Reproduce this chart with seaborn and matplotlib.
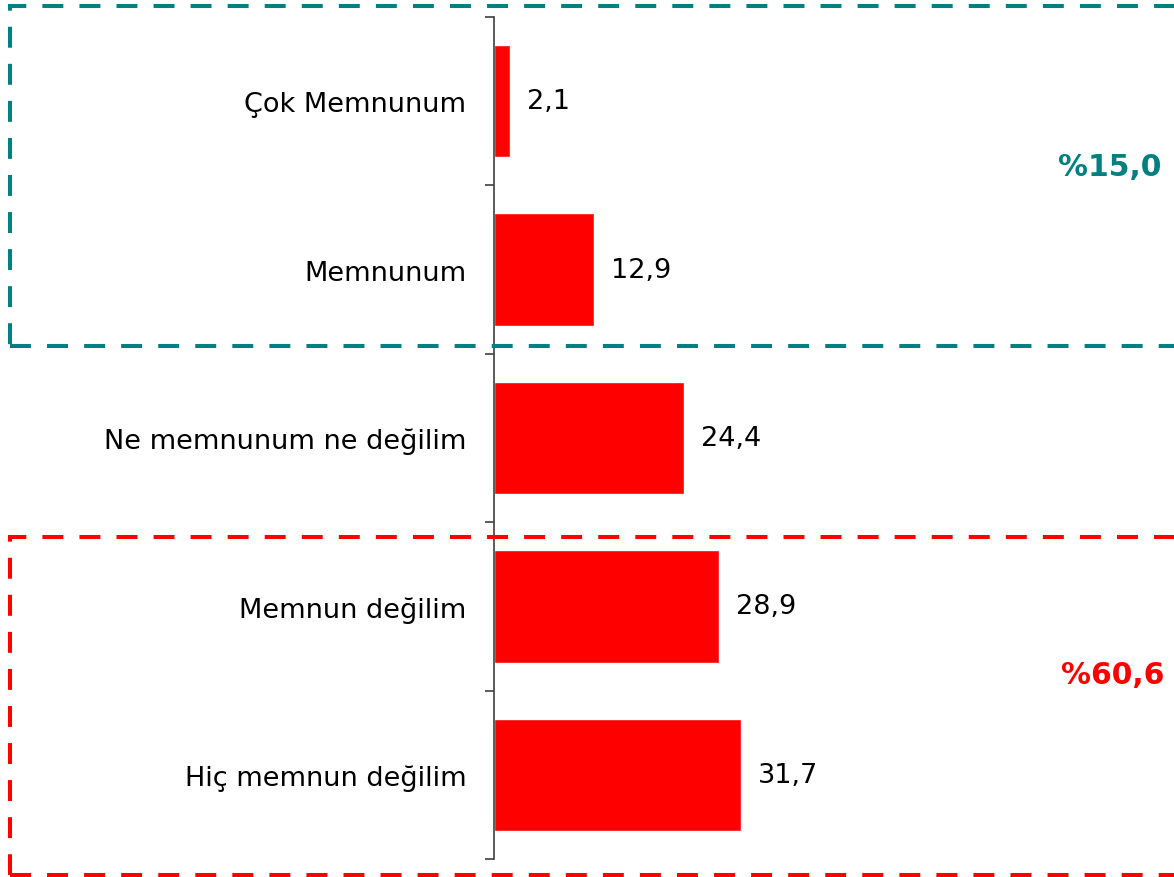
import matplotlib
matplotlib.use("Agg")
import matplotlib.pyplot as plt
import seaborn as sns
import pandas as pd
from matplotlib.patches import Rectangle

# Data
categories = ["Çok Memnunum", "Memnunum", "Ne memnunum ne değilim",
              "Memnun değilim", "Hiç memnun değilim"]
values = [2.1, 12.9, 24.4, 28.9, 31.7]
group_labels = ["%15,0", "%60,6"]
group_colors = ["#008080", "#FF0000"]

sns.set_style("white")
plt.rcParams["font.family"] = ["DejaVu Sans"]
plt.rcParams["text.color"] = "black"
plt.rcParams["ytick.color"] = "black"

df = pd.DataFrame({"cat": categories, "val": values})

fig = plt.figure(figsize=(11.74, 8.78), dpi=100)
ax = fig.add_axes([494 / 1174, 18 / 878, 1 - 494 / 1174, 842 / 878])

sns.barplot(data=df, y="cat", x="val", orient="h", color="#FF0000",
            saturation=1, width=0.667, ax=ax)

ax.set_xlim(0, 87.3)
ax.set_ylim(4.5, -0.5)
ax.set_xlabel("")
ax.set_ylabel("")
ax.set_xticks([])

# category labels without marks, ticks on the boundaries
ax.set_yticks(range(len(categories)))
ax.set_yticklabels(categories, fontsize=19.5, color="black")
ax.tick_params(axis="y", which="major", left=True, length=0, pad=20)
ax.set_yticks([i - 0.5 for i in range(len(categories) + 1)], minor=True)
ax.tick_params(axis="y", which="minor", left=True, length=6.5, width=1.2,
               color="#404040", direction="out")

for s in ["top", "right", "bottom"]:
    ax.spines[s].set_visible(False)
ax.spines["left"].set_color("#404040")
ax.spines["left"].set_linewidth(1.2)

labels = [f"{v:.1f}".replace(".", ",") for v in values]
ax.bar_label(ax.containers[0], labels=labels, padding=12, fontsize=19.5,
             color="black")

# dashed group boxes
dash = (0, (5.2, 4))
teal_box = Rectangle((10 / 1174, 1 - 347 / 878), 1.2, 340 / 878,
                     transform=fig.transFigure, fill=False,
                     edgecolor=group_colors[0], linewidth=2.9,
                     linestyle=dash, clip_on=False)
red_box = Rectangle((10 / 1174, 1 - 876 / 878), 1.2, 338 / 878,
                    transform=fig.transFigure, fill=False,
                    edgecolor=group_colors[1], linewidth=2.9,
                    linestyle=dash, clip_on=False)
fig.patches.extend([teal_box, red_box])

fig.text(1110 / 1174, 1 - 167 / 878, group_labels[0], color=group_colors[0],
         fontsize=21.5, fontweight="bold", ha="center", va="center")
fig.text(1113 / 1174, 1 - 676 / 878, group_labels[1], color=group_colors[1],
         fontsize=21.5, fontweight="bold", ha="center", va="center")

fig.savefig("out.png", dpi=100)
